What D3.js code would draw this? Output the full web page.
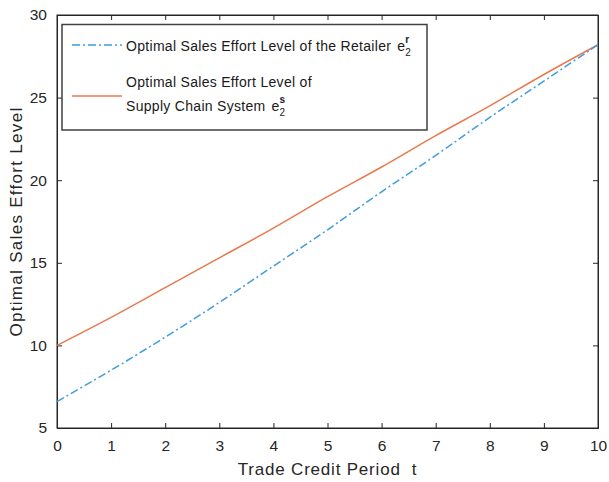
<!DOCTYPE html>
<html><head><meta charset="utf-8">
<script src="https://cdn.jsdelivr.net/npm/d3@7"></script>
<style>body{margin:0;background:#fff}svg{display:block}text{font-family:"Liberation Sans",Arial,sans-serif;white-space:pre}</style>
</head><body>
<svg id="c" width="609" height="482"></svg>
<script>
const tValues = [0,1,2,3,4,5,6,7,8,9,10];
const retailerEffort = [6.6,8.5,10.5,12.6,14.8,17.0,19.3,21.5,23.8,26.0,28.2];
const systemEffort = [10.0,11.7,13.5,15.3,17.1,19.0,20.8,22.7,24.5,26.4,28.2];
const xTicks = [0,1,2,3,4,5,6,7,8,9,10];
const yTicks = [5,10,15,20,25,30];

const svg = d3.select("#c");
const L=57,R=598,T=15,B=428;
const x = d3.scaleLinear().domain([0,10]).range([L,R]);
const y = d3.scaleLinear().domain([5,30]).range([B,T]);
const axisColor="#262626";

const g = svg.append("g");
g.append("rect").attr("x",L).attr("y",T).attr("width",R-L).attr("height",B-T)
 .attr("fill","none").attr("stroke",axisColor).attr("stroke-width",1);

const xb = g.append("g").attr("transform",`translate(0,${B})`)
 .call(d3.axisBottom(x).tickValues(xTicks).tickSize(-5).tickPadding(11).tickFormat(d3.format("d")));
const xt = g.append("g").attr("transform",`translate(0,${T})`)
 .call(d3.axisTop(x).tickValues(xTicks).tickSize(-5).tickFormat(""));
const yl = g.append("g").attr("transform",`translate(${L},0)`)
 .call(d3.axisLeft(y).tickValues(yTicks).tickSize(-5).tickPadding(10).tickFormat(d3.format("d")));
const yr = g.append("g").attr("transform",`translate(${R},0)`)
 .call(d3.axisRight(y).tickValues(yTicks).tickSize(-5).tickFormat(""));
[xb,xt,yl,yr].forEach(a=>{
  a.select(".domain").attr("stroke",axisColor);
  a.selectAll(".tick line").attr("stroke",axisColor);
  a.selectAll(".tick text").attr("fill",axisColor).style("font-size","15.5px");
});
xb.selectAll(".tick text").attr("dy","0.75em");

const line = d3.line().x((d,i)=>x(tValues[i])).y(d=>y(d)).curve(d3.curveMonotoneX);
const blue="#3f9ddf", red="#e87a4f";
g.append("path").datum(systemEffort).attr("d",line).attr("fill","none").attr("stroke",red).attr("stroke-width",1.5);
g.append("path").datum(retailerEffort).attr("d",line).attr("fill","none").attr("stroke",blue).attr("stroke-width",1.5).attr("stroke-dasharray","8,3,2,3");

// axis labels
svg.append("text").attr("x",(L+R)/2).attr("y",475).attr("text-anchor","middle")
 .attr("fill",axisColor).style("font-size","17px").style("letter-spacing","0.8px").text("Trade Credit Period  t");
svg.append("text").attr("transform",`translate(22,${(T+B)/2}) rotate(-90)`).attr("text-anchor","middle")
 .attr("fill",axisColor).style("font-size","17px").style("letter-spacing","1.3px").text("Optimal Sales Effort Level");

// legend
const lg = svg.append("g");
lg.append("rect").attr("x",62).attr("y",24.5).attr("width",365).attr("height",105.5)
 .attr("fill","#fff").attr("stroke","#404040").attr("stroke-width",1.5);
lg.append("line").attr("x1",72).attr("x2",122).attr("y1",45).attr("y2",45)
 .attr("stroke",blue).attr("stroke-width",1.5).attr("stroke-dasharray","8,3,2,3");
lg.append("line").attr("x1",72).attr("x2",122).attr("y1",96).attr("y2",96)
 .attr("stroke",red).attr("stroke-width",1.5);
const fs="14px", ls="0.3px", tc="#1a1a1a";
function entry(txt, yb, sup){
  const t = lg.append("text").attr("x",126).attr("y",yb).attr("fill",tc)
    .style("font-size",fs).style("letter-spacing",ls).text(txt);
  if(sup){
    const w = t.node().getComputedTextLength();
    const ex = 126 + w + 6;
    lg.append("text").attr("x",ex).attr("y",yb).attr("fill",tc).style("font-size",fs).text("e");
    lg.append("text").attr("x",ex+8).attr("y",yb-8).attr("fill",tc).style("font-size","10px").style("font-weight","bold").text(sup);
    lg.append("text").attr("x",ex+8).attr("y",yb+5).attr("fill",tc).style("font-size","10px").text("2");
  }
}
entry("Optimal Sales Effort Level of the Retailer", 51, "r");
entry("Optimal Sales Effort Level of", 87, null);
entry("Supply Chain System", 111, "s");
</script>
</body></html>
